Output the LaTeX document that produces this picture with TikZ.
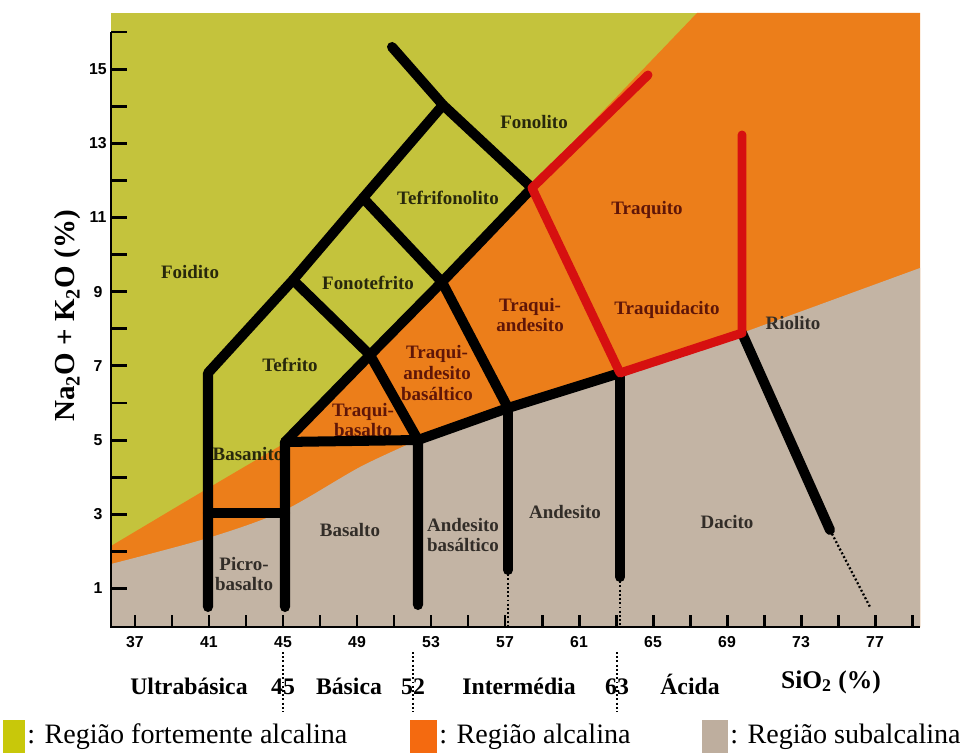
\documentclass[tikz,border=0pt]{standalone}
\usepackage{fontspec}
\setmainfont{Liberation Serif}
\newfontfamily\tickfont{Liberation Sans}
\definecolor{cgreen}{RGB}{196,195,60}
\definecolor{corange}{RGB}{236,126,26}
\definecolor{cgray}{RGB}{195,180,164}
\definecolor{cred}{RGB}{214,16,16}
\definecolor{lgreen}{RGB}{200,200,10}
\definecolor{lorange}{RGB}{244,106,16}
\definecolor{lgray}{RGB}{190,174,158}
\definecolor{tgreen}{RGB}{40,40,12}
\definecolor{torange}{RGB}{95,22,8}
\definecolor{tgray}{RGB}{50,45,40}
\tikzset{
  blk/.style={line width=5.7pt, line cap=round, line join=round, black},
  redl/.style={line width=5.1pt, line cap=round, line join=round, cred},
  dotl/.style={line width=1.3pt, dash pattern=on 1.1pt off 1.3pt, black},
  axisl/.style={line width=1.7pt, black},
  rl/.style={font=\bfseries\fontsize{10.8}{11.8}\selectfont, align=center, inner sep=0pt},
  rg/.style={rl, text=tgreen},
  ro/.style={rl, text=torange},
  rs/.style={rl, text=tgray},
  ticklab/.style={font=\tickfont\bfseries\fontsize{9}{9}\selectfont, inner sep=0pt},
  bottomlab/.style={font=\bfseries\fontsize{13.5}{14}\selectfont, inner sep=0pt, anchor=base},
  legtext/.style={font=\fontsize{16}{16}\selectfont, inner sep=0pt, anchor=west}
}
\begin{document}
\begin{tikzpicture}[x=0.02cm,y=-0.02cm]
\useasboundingbox (0,0) rectangle (960,753);
% background regions
\fill[cgreen] (111,13) rectangle (920,627);
\fill[corange] plot[smooth] coordinates {(111,546) (200,493) (285,443)} -- (697,13) -- (920,13) -- (920,627) -- (111,627) -- cycle;
\fill[cgray] plot[smooth] coordinates {(111,564) (208,538) (283,511) (360,467) (418,440)} -- (508,408) -- (620,373) -- (742,333) -- (920,268) -- (920,627) -- (111,627) -- cycle;

% region labels
\node[rg] (foidito) at (190,272) {Foidito};
\node[rg] (fonolito) at (534,122) {Fonolito};
\node[rg] (tefrifon) at (448,198) {Tefrifonolito};
\node[rg] (fonotef) at (368,283) {Fonotefrito};
\node[rg] (tefrito) at (290,365) {Tefrito};
\node[rg] (basanito) at (248,454) {Basanito};
\node[ro] (trbas) at (363,420) {Traqui-\\basalto};
\node[ro] (tabas) at (437,373) {Traqui-\\andesito\\basáltico};
\node[ro] (tand) at (530,315) {Traqui-\\andesito};
\node[ro] (traquito) at (647,210) {Traquito};
\node[ro] (trdac) at (667,310) {Traquidacito};
\node[rs] (riolito) at (793,323) {Riolito};
\node[rs] (dacito) at (727,522) {Dacito};
\node[rs] (andesito) at (565,512) {Andesito};
\node[rs] (andbas) at (463,535) {Andesito\\basáltico};
\node[rs] (basalto) at (350,530) {Basalto};
\node[rs] (picro) at (244,574) {Picro-\\basalto};

% vertices
\coordinate (pA) at (208,607);
\coordinate (pB) at (208,373);
\coordinate (pC) at (293,280);
\coordinate (pD) at (363,198);
\coordinate (pE) at (443,105);
\coordinate (pF) at (392,47);
\coordinate (pG) at (532,188);
\coordinate (pH) at (442,282);
\coordinate (pI) at (370,355);
\coordinate (pJ) at (285,442);
\coordinate (pK) at (418,440);
\coordinate (pL) at (508,408);
\coordinate (pM) at (620,373);
\coordinate (pN) at (742,333);
\coordinate (pO) at (742,135);
\coordinate (pP) at (648,75);
\coordinate (pQ) at (830,530);
\coordinate (pR) at (870,607);
\coordinate (pS) at (285,607);
\coordinate (pT) at (418,605);
\coordinate (pU) at (508,570);
\coordinate (pV) at (620,577);
\coordinate (pU0) at (508,625);
\coordinate (pV0) at (620,625);
\coordinate (h3a) at (208,513);
\coordinate (h3b) at (285,513);

% black boundaries
\draw[blk] (pA) -- (pB) -- (pC) -- (pD) -- (pE);
\draw[blk] (pF) -- (pE) -- (pG);
\draw[blk] (pJ) -- (pI) -- (pH) -- (pG);
\draw[blk] (pC) -- (pI) -- (pK);
\draw[blk] (pD) -- (pH) -- (pL);
\draw[blk] (pS) -- (pJ) -- (pK) -- (pT);
\draw[blk] (pK) -- (pL) -- (pM);
\draw[blk] (pL) -- (pU);
\draw[blk] (pM) -- (pV);
\draw[blk] (pN) -- (pQ);
\draw[blk] (h3a) -- (h3b);
\draw[dotl] (pQ) -- (pR);
\draw[dotl] (pU) -- (pU0);
\draw[dotl] (pV) -- (pV0);
% red boundaries
\draw[redl] (pP) -- (pG) -- (pM) -- (pN) -- (pO);

% axes
\coordinate (ytop) at (111,32);
\coordinate (orig) at (111,627);
\coordinate (xend) at (920,627);
\draw[axisl] (ytop) -- (orig) -- (xend);
\foreach \v in {1,...,16} \draw[axisl] (111,{625.6-37.1*\v}) -- ++(16,0);
\foreach \v in {37,39,...,79} \draw[axisl] ({135+18.5*(\v-37)},627) -- ++(0,-12);
\foreach \v in {1,3,...,15} \node[ticklab] at (98,{625.6-37.1*\v}) {\v};
\foreach \v in {37,41,...,77} \node[ticklab] at ({135+18.5*(\v-37)},642) {\v};

\node[font=\bfseries\fontsize{16.5}{17}\selectfont, rotate=90, inner sep=0pt] (ytitle) at (68,316) {Na\textsubscript{2}O + K\textsubscript{2}O (\%)};

% bottom classification row
\node[bottomlab] (ultra) at (189,694) {Ultrabásica};
\node[bottomlab] (n45) at (283,694) {45};
\node[bottomlab] (basica) at (349,694) {Básica};
\node[bottomlab] (n52) at (413,694) {52};
\node[bottomlab] (interm) at (519,694) {Intermédia};
\node[bottomlab] (n63) at (617,694) {63};
\node[bottomlab] (acida) at (690,694) {Ácida};
\node[font=\bfseries\fontsize{14.5}{15}\selectfont, inner sep=0pt, anchor=base] (sio2) at (831,688) {SiO\textsubscript{2} (\%)};
\draw[dotl, line width=1pt] (283,652) -- (283,712);
\draw[dotl, line width=1pt] (413,652) -- (413,712);
\draw[dotl, line width=1pt] (617,652) -- (617,712);

% legend
\fill[lgreen] (3,720) rectangle (25,753);
\node[legtext] (leg1) at (27,737) {: Região fortemente alcalina};
\fill[lorange] (410,720) rectangle (437,753);
\node[legtext] (leg2) at (439,737) {: Região alcalina};
\fill[lgray] (702,720) rectangle (728,753);
\node[legtext] (leg3) at (730,737) {: Região subalcalina};
\end{tikzpicture}
\end{document}
